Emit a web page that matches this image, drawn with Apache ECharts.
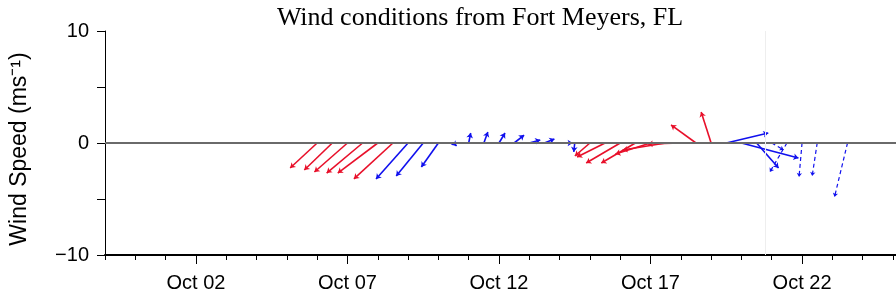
<!DOCTYPE html>
<html>
<head>
<meta charset="utf-8">
<script src="https://cdn.jsdelivr.net/npm/echarts@6/dist/echarts.min.js"></script>
<style>
	html, body { margin: 0; padding: 0; background: #fff; }
	#wind { width: 896px; height: 299px; }
</style>
</head>
<body>
<div id="wind"></div>
<script>
	// time in days of October (Sep 29 = -1), u / v components in m/s
	var times = [6.0, 6.5, 7.0, 7.5, 8.0, 8.5, 9.0, 9.5, 10.0, 10.5, 11.0, 11.5, 12.0, 12.5, 13.0, 13.5, 14.0, 14.5,
		15.0, 15.5, 16.0, 16.5, 17.0, 17.5, 18.0, 18.5, 19.0, 19.5, 20.0, 20.5, 21.0, 21.5, 22.0, 22.5, 23.5];
	var uWind = [-2.41, -2.50, -2.95, -3.21, -3.57, -3.48, -2.86, -2.41, -1.52, 0.27, 0.18, 0.36, 0.54, 0.89, 0.98, 0.89, 1.16, -0.09,
		-1.34, -2.50, -3.04, -3.04, -3.13, -3.84, -2.95, -2.23, -0.89, 3.75, 5.09, 1.96, 1.07, -1.52, -0.27, -0.45, -1.16];
	var vWind = [-2.23, -2.41, -2.59, -2.68, -2.68, -3.21, -3.21, -2.95, -2.14, -0.27, 0.89, 0.98, 0.89, 0.71, 0.27, 0.36, 0.0, -0.80,
		-1.16, -1.25, -1.79, -1.79, -0.98, -0.63, -0.09, 1.61, 2.77, 0.89, -1.34, -2.23, -0.63, -2.59, -3.04, -2.95, -4.82];
	// r = red, b = blue, d = blue dashed
	var kind = ['r', 'r', 'r', 'r', 'r', 'r', 'b', 'b', 'b', 'b', 'b', 'b', 'b', 'b', 'b', 'b', 'b', 'b',
		'r', 'r', 'r', 'r', 'r', 'r', 'r', 'r', 'r', 'b', 'b', 'b', 'd', 'd', 'd', 'd', 'd'];
	var labelDays = [2, 7, 12, 17, 22];
	var yLabels = [-10, 0, 10];
	var markDays = [20.78];

	var xMin = -1, xMax = 25.1, yMin = -10, yMax = 10;
	var gridLeft = 105, gridRight = 0, gridTop = 31, gridBottom = 44;
	var W = 896, H = 299;
	// days per m/s so that u has the same pixel scale as v
	var pxDay = (W - gridLeft - gridRight) / (xMax - xMin);
	var pxUnit = (H - gridTop - gridBottom) / (yMax - yMin);
	var k = pxUnit / pxDay;

	function build(c) {
		var out = [];
		for (var i = 0; i < times.length; i++) {
			if (kind[i] !== c) continue;
			out.push({ coords: [[times[i], 0], [times[i] + uWind[i] * k, vWind[i]]] });
		}
		return out;
	}

	function pad(n) { return n < 10 ? '0' + n : '' + n; }

	var chart = echarts.init(document.getElementById('wind'));
	var option = {
		animation: false,
		title: {
			text: 'Wind conditions from Fort Meyers, FL',
			left: 475,
			top: 0,
			textAlign: 'center',
			textStyle: { fontFamily: 'Liberation Serif', fontWeight: 'normal', fontSize: 26, color: '#000' }
		},
		grid: { left: gridLeft, right: gridRight, top: gridTop, bottom: gridBottom, containLabel: false, outerBoundsMode: 'none' },
		xAxis: [
			{
				type: 'value', min: xMin, max: xMax, interval: 1,
				splitLine: { show: false },
				axisLine: { onZero: false, lineStyle: { color: '#000', width: 2 } },
				axisTick: { length: 5, lineStyle: { color: '#000' } },
				axisLabel: {
					customValues: labelDays,
					margin: 18,
					fontFamily: 'Liberation Sans', fontSize: 20, color: '#000',
					formatter: function (v) { return 'Oct ' + pad(v); }
				}
			},
			{
				type: 'value', min: xMin, max: xMax, position: 'bottom',
				splitLine: { show: false },
				axisLine: { show: false, onZero: false },
				axisTick: { customValues: labelDays, length: 9, lineStyle: { color: '#000' } },
				axisLabel: { show: false }
			}
		],
		yAxis: {
			type: 'value', min: yMin, max: yMax, interval: 5,
			splitLine: { show: false },
			axisLine: { show: true, onZero: false, lineStyle: { color: '#000', width: 1 } },
			axisTick: { show: true, length: 8, lineStyle: { color: '#000' } },
			axisLabel: {
				customValues: yLabels,
				margin: 16,
				fontFamily: 'Liberation Sans', fontSize: 20, color: '#000',
				formatter: function (v) { return v < 0 ? '\u2212' + (-v) : '' + v; }
			},
			name: 'Wind Speed (ms\u207b\u00b9)',
			nameLocation: 'middle',
			nameGap: 74,
			nameRotate: 90,
			nameTextStyle: { fontFamily: 'Liberation Sans', fontSize: 23, color: '#000', padding: [0, 12, 0, 0] }
		},
		series: [
			{
				type: 'line', data: [], silent: true,
				markLine: {
					symbol: 'none', silent: true, label: { show: false },
					data: [{ yAxis: 0, lineStyle: { color: '#6a6a6a', width: 1.8, type: 'solid' } }].concat(
						markDays.map(function (d) { return { xAxis: d, lineStyle: { color: '#eeeeee', width: 1, type: 'solid' } }; }))
				}
			},
			{
				name: 'red', type: 'lines', coordinateSystem: 'cartesian2d',
				symbol: ['none', 'arrow'], symbolSize: 5,
				lineStyle: { color: '#e8102a', width: 1.6, opacity: 1 },
				data: build('r')
			},
			{
				name: 'blue', type: 'lines', coordinateSystem: 'cartesian2d',
				symbol: ['none', 'arrow'], symbolSize: 5,
				lineStyle: { color: '#1010ee', width: 1.6, opacity: 1 },
				data: build('b')
			},
			{
				name: 'blue dashed', type: 'lines', coordinateSystem: 'cartesian2d',
				symbol: ['none', 'arrow'], symbolSize: 4,
				lineStyle: { color: '#1010ee', width: 1.2, opacity: 1, type: [4, 3] },
				data: build('d')
			}
		]
	};
	chart.setOption(option);
</script>
</body>
</html>
